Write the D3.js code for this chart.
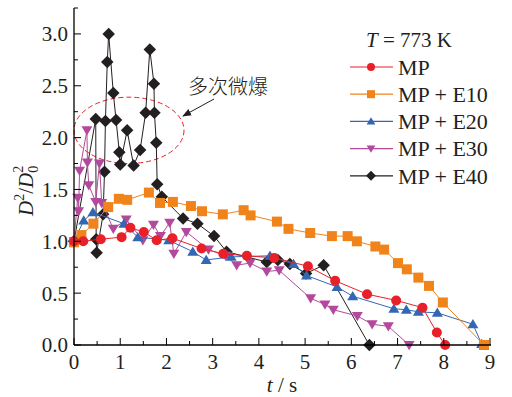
<!DOCTYPE html>
<html>
<head>
<meta charset="utf-8">
<script src="https://cdn.jsdelivr.net/npm/d3@7"></script>
<style>
  body { margin: 0; background: #fff; }
  svg { display: block; }
</style>
</head>
<body>
<svg id="chart" width="512" height="397"></svg>
<script>
// datos (t en s, D2/D02)
var tMP  = [0, 0.20, 0.58, 1.03, 1.22, 1.51, 1.79, 2.13, 2.76, 3.23, 3.74, 4.33, 5.06, 5.65, 6.34, 6.97, 7.54, 7.85, 8.03];
var dMP  = [1.00, 1.00, 1.02, 1.04, 1.13, 1.09, 1.01, 1.03, 0.93, 0.88, 0.86, 0.84, 0.76, 0.62, 0.49, 0.43, 0.36, 0.12, 0.00];

var tE10 = [0, 0.16, 0.42, 0.74, 0.97, 1.15, 1.62, 1.86, 2.14, 2.53, 2.77, 3.22, 3.67, 3.82, 4.39, 4.64, 5.11, 5.58, 5.92, 6.12, 6.52, 6.71, 7.01, 7.20, 7.45, 7.68, 7.98, 8.87];
var dE10 = [0.99, 1.06, 1.17, 1.33, 1.41, 1.40, 1.47, 1.37, 1.38, 1.34, 1.29, 1.26, 1.30, 1.25, 1.19, 1.12, 1.08, 1.05, 1.05, 1.00, 0.95, 0.92, 0.79, 0.73, 0.65, 0.57, 0.41, 0.00];

var tE20 = [0, 0.21, 0.41, 1.08, 1.38, 2.05, 2.57, 2.86, 3.40, 4.24, 4.75, 5.03, 5.69, 6.03, 6.92, 7.19, 7.45, 7.86, 8.63, 8.82];
var dE20 = [1.00, 1.20, 1.28, 1.17, 1.04, 1.01, 0.90, 0.82, 0.85, 0.86, 0.78, 0.67, 0.56, 0.47, 0.35, 0.34, 0.32, 0.31, 0.20, 0.01];

var tE30 = [0, 0.08, 0.10, 0.12, 0.28, 0.29, 0.32, 0.47, 0.55, 0.60, 0.85, 1.13, 1.49, 1.72, 1.87, 2.07, 2.16, 2.43, 2.91, 3.28, 3.52, 3.81, 4.17, 4.44, 5.12, 5.43, 5.61, 6.13, 6.45, 6.80, 7.25];
var dE30 = [1.00, 1.42, 1.29, 1.68, 2.07, 1.76, 1.54, 1.38, 1.75, 1.37, 1.12, 1.21, 1.01, 1.16, 1.05, 1.18, 0.88, 1.09, 0.92, 0.86, 0.77, 0.79, 0.71, 0.72, 0.45, 0.39, 0.34, 0.28, 0.20, 0.18, 0.00];

var tE40 = [0, 0.47, 0.48, 0.49, 0.63, 0.66, 0.68, 0.72, 0.75, 0.85, 0.91, 0.98, 1.00, 1.15, 1.29, 1.43, 1.55, 1.64, 1.73, 1.74, 1.78, 1.80, 1.90, 2.36, 2.67, 3.03, 3.30, 4.17, 4.41, 4.67, 5.02, 5.40, 6.39];
var dE40 = [1.00, 2.18, 1.02, 0.89, 1.26, 1.67, 2.16, 2.73, 3.00, 2.43, 2.17, 1.86, 1.74, 2.07, 1.73, 1.88, 2.24, 2.85, 2.52, 2.24, 1.95, 1.55, 1.43, 1.22, 1.17, 1.05, 0.90, 0.80, 0.82, 0.78, 0.69, 0.77, 0.00];

var seriesNames = ["MP", "MP + E10", "MP + E20", "MP + E30", "MP + E40"];
var xTickValues = [0, 1, 2, 3, 4, 5, 6, 7, 8, 9];
var yTickValues = [0, 0.5, 1.0, 1.5, 2.0, 2.5, 3.0];

var series = [
  {name: seriesNames[0], t: tMP,  d: dMP,  color: "#e8202a", shape: "circle"},
  {name: seriesNames[1], t: tE10, d: dE10, color: "#f0841a", shape: "square"},
  {name: seriesNames[2], t: tE20, d: dE20, color: "#3467b3", shape: "up"},
  {name: seriesNames[3], t: tE30, d: dE30, color: "#b3499c", shape: "down"},
  {name: seriesNames[4], t: tE40, d: dE40, color: "#231f20", shape: "diamond"}
];

var serif = "'Liberation Serif', 'Times New Roman', 'DejaVu Serif', serif";

var svg = d3.select("#chart")
    .attr("font-family", serif),
    margin = {top: 8, left: 74, right: 22, bottom: 52},
    width = +svg.attr("width") - margin.left - margin.right,
    height = +svg.attr("height") - margin.top - margin.bottom,
    g = svg.append("g").attr("transform", "translate(" + margin.left + "," + margin.top + ")");

var x = d3.scaleLinear().domain([0, 9]).range([0, width]);
var y = d3.scaleLinear().domain([0, 3.25]).range([height, 0]);

// forma de los marcadores
function marker(shape, s) {
  if (shape === "circle") return d3.symbol().type(d3.symbolCircle).size(Math.PI * s * s)();
  if (shape === "square") return "M" + (-s) + "," + (-s) + "H" + s + "V" + s + "H" + (-s) + "Z";
  if (shape === "up") return "M0," + (-s * 1.05) + "L" + (s * 1.1) + "," + (s * 0.8) + "L" + (-s * 1.1) + "," + (s * 0.8) + "Z";
  if (shape === "down") return "M0," + (s * 1.05) + "L" + (s * 1.1) + "," + (-s * 0.8) + "L" + (-s * 1.1) + "," + (-s * 0.8) + "Z";
  return "M0," + (-s * 1.25) + "L" + (s * 1.25) + ",0L0," + (s * 1.25) + "L" + (-s * 1.25) + ",0Z";
}

// anotacion: elipse discontinua
g.append("ellipse")
  .attr("cx", x(1.19)).attr("cy", y(2.07))
  .attr("rx", x(1.19) - x(0)).attr("ry", y(1.75) - y(2.07))
  .attr("fill", "none")
  .attr("stroke", "#e8202a")
  .attr("stroke-width", 1)
  .attr("stroke-dasharray", "5,3");

// series (MP queda encima)
series.slice().reverse().forEach(function(s) {
  var pts = s.t.map(function(t, i) { return [t, s.d[i]]; });
  var line = d3.line().x(function(p) { return x(p[0]); }).y(function(p) { return y(p[1]); });
  g.append("path")
    .attr("d", line(pts))
    .attr("fill", "none")
    .attr("stroke", s.color)
    .attr("stroke-width", 1);
  g.selectAll(null)
    .data(pts)
    .enter().append("path")
      .attr("transform", function(p) { return "translate(" + x(p[0]) + "," + y(p[1]) + ")"; })
      .attr("d", marker(s.shape, 5))
      .attr("fill", s.color);
});

// ejes: lineas y marcas hacia dentro
g.append("line").attr("x1", 0).attr("x2", 0).attr("y1", 0).attr("y2", height).attr("stroke", "#000").attr("stroke-width", 1.3);
g.append("line").attr("x1", 0).attr("x2", width + 1).attr("y1", height).attr("y2", height).attr("stroke", "#000").attr("stroke-width", 1.3);

var xMinor = d3.range(0.5, 9, 1);
var yMinor = d3.range(0.25, 3.3, 0.5);

g.selectAll(".xt").data(xTickValues).enter().append("line")
  .attr("x1", function(d) { return x(d); }).attr("x2", function(d) { return x(d); })
  .attr("y1", height).attr("y2", height - 7).attr("stroke", "#000");
g.selectAll(".xm").data(xMinor).enter().append("line")
  .attr("x1", function(d) { return x(d); }).attr("x2", function(d) { return x(d); })
  .attr("y1", height).attr("y2", height - 4).attr("stroke", "#000");
g.selectAll(".yt").data(yTickValues).enter().append("line")
  .attr("y1", function(d) { return y(d); }).attr("y2", function(d) { return y(d); })
  .attr("x1", 0).attr("x2", 7).attr("stroke", "#000");
g.selectAll(".ym").data(yMinor).enter().append("line")
  .attr("y1", function(d) { return y(d); }).attr("y2", function(d) { return y(d); })
  .attr("x1", 0).attr("x2", 4).attr("stroke", "#000");

g.selectAll(".xl").data(xTickValues).enter().append("text")
  .attr("x", function(d) { return x(d); })
  .attr("y", height + 24)
  .attr("text-anchor", "middle")
  .attr("font-size", 21)
  .attr("fill", "#231f20")
  .text(function(d) { return d; });
g.selectAll(".yl").data(yTickValues).enter().append("text")
  .attr("x", -6)
  .attr("y", function(d) { return y(d); })
  .attr("dy", "0.35em")
  .attr("text-anchor", "end")
  .attr("font-size", 21)
  .attr("fill", "#231f20")
  .text(function(d) { return d3.format(".1f")(d); });

// titulo eje x
var xt = svg.append("text")
  .attr("x", 282).attr("y", 392)
  .attr("text-anchor", "middle")
  .attr("font-size", 21)
  .attr("fill", "#231f20");
xt.append("tspan").attr("font-style", "italic").text("t");
xt.append("tspan").text(" / s");

// titulo eje y: D^2/D_0^2
var yt = svg.append("g").attr("transform", "translate(33,216) rotate(-90)");
var ytt = yt.append("text").attr("x", 0).attr("y", 0).attr("font-size", 21).attr("fill", "#231f20");
ytt.append("tspan").attr("font-style", "italic").text("D");
ytt.append("tspan").attr("font-size", 14).attr("dy", -9).text("2");
ytt.append("tspan").attr("dy", 9).text("/");
ytt.append("tspan").attr("font-style", "italic").text("D");
ytt.append("tspan").attr("font-size", 14).attr("dy", 5).text("0");
ytt.append("tspan").attr("font-size", 14).attr("dx", -7).attr("dy", -15).text("2");

// leyenda
var lg = svg.append("g").attr("transform", "translate(350,0)");
var lt = lg.append("text").attr("x", 16).attr("y", 47).attr("font-size", 21).attr("fill", "#231f20");
lt.append("tspan").attr("font-style", "italic").text("T");
lt.append("tspan").text(" = 773 K");

var row = lg.selectAll(".row").data(series).enter().append("g")
  .attr("transform", function(d, i) { return "translate(0," + (67 + i * 27.2) + ")"; });
row.append("line").attr("x1", 0).attr("x2", 43).attr("stroke", function(d) { return d.color; }).attr("stroke-width", 1.2);
row.append("path")
  .attr("transform", "translate(21,0)")
  .attr("d", function(d) { return marker(d.shape, 4); })
  .attr("fill", function(d) { return d.color; });
row.append("text")
  .attr("x", 48)
  .attr("dy", "0.35em")
  .attr("font-size", 22)
  .attr("fill", "#231f20")
  .text(function(d) { return d.name; });

// anotacion de texto y flecha
svg.append("text")
  .attr("x", 188).attr("y", 94)
  .attr("font-family", "'Noto Sans CJK SC', sans-serif")
  .attr("font-size", 20)
  .attr("font-weight", 300)
  .attr("fill", "#231f20")
  .text("多次微爆");
svg.append("defs").append("marker")
  .attr("id", "ah").attr("viewBox", "0 0 10 10").attr("refX", 9).attr("refY", 5)
  .attr("markerWidth", 9).attr("markerHeight", 9).attr("orient", "auto")
  .attr("markerUnits", "userSpaceOnUse")
  .append("path").attr("d", "M0,1L10,5L0,9Z").attr("fill", "#231f20");
svg.append("line")
  .attr("x1", 214).attr("y1", 99).attr("x2", 183).attr("y2", 116)
  .attr("stroke", "#231f20").attr("stroke-width", 1)
  .attr("marker-end", "url(#ah)");
</script>
</body>
</html>
